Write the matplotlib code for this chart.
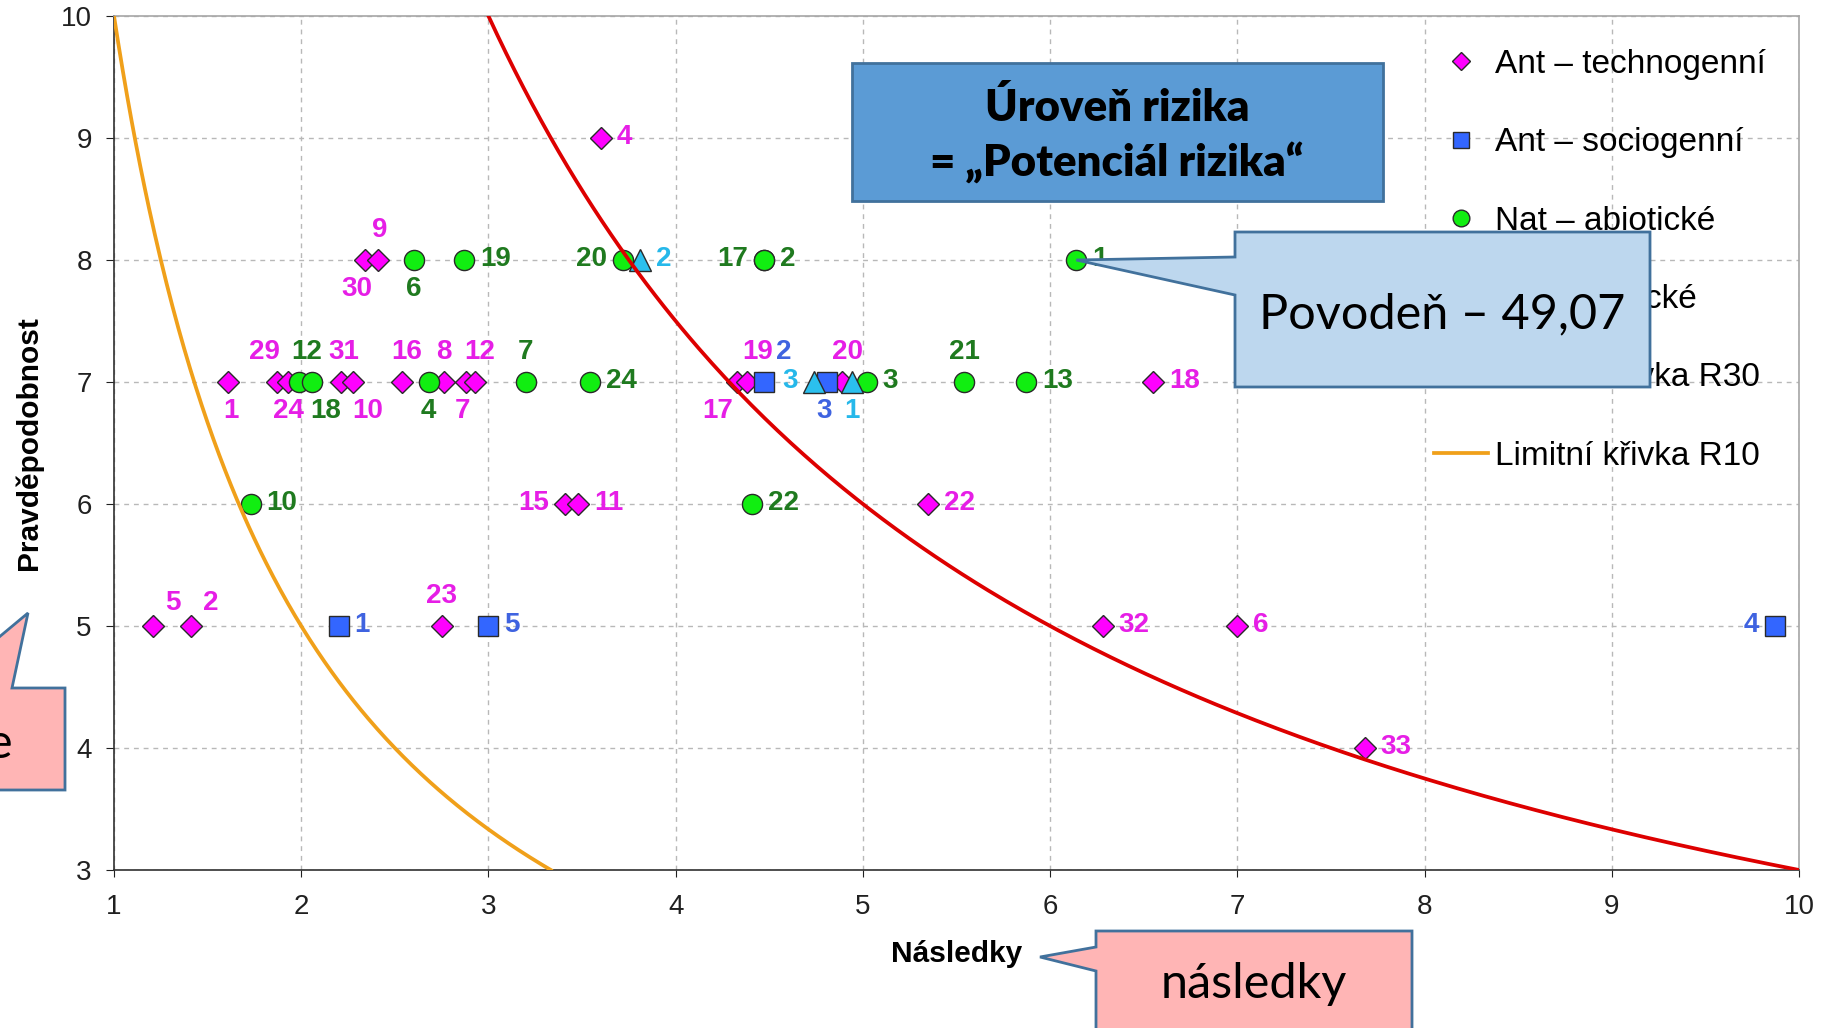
import matplotlib
matplotlib.use("Agg")
import matplotlib.pyplot as plt
import numpy as np
from matplotlib.patches import Polygon
from matplotlib.lines import Line2D

plt.rcParams['font.family'] = ['Liberation Sans', 'DejaVu Sans']

W, H = 1821, 1028

# Ant - technogenni (magenta diamonds)
tech_x = [3.60, 2.34, 2.41, 1.61, 1.87, 1.93, 2.21, 2.275, 2.54, 2.76, 2.88, 2.93,
          4.33, 4.38, 4.89, 6.55, 3.41, 3.48, 5.35, 1.21, 1.41, 2.75, 6.28, 7.00, 7.68]
tech_y = [9, 8, 8, 7, 7, 7, 7, 7, 7, 7, 7, 7, 7, 7, 7, 7, 6, 6, 6, 5, 5, 5, 5, 5, 4]
tech_lbl = ['4', '30', '9', '1', '29', '24', '31', '10', '16', '8', '7', '12',
            '17', '19', '20', '18', '15', '11', '22', '5', '2', '23', '32', '6', '33']

# Ant - sociogenni (blue squares)
soc_x = [2.20, 3.00, 9.87, 4.47, 4.81]
soc_y = [5, 5, 5, 7, 7]
soc_lbl = ['1', '5', '4', '2', '3']

# Nat - abioticke (green circles)
abio_x = [2.60, 2.87, 3.72, 4.47, 4.47, 6.14, 1.99, 2.06, 2.68, 3.20, 3.54, 5.02, 5.54, 5.87, 1.73, 4.41]
abio_y = [8, 8, 8, 8, 8, 8, 7, 7, 7, 7, 7, 7, 7, 7, 6, 6]
abio_lbl = ['6', '19', '20', '17', '2', '1', '12', '18', '4', '7', '24', '3', '21', '13', '10', '22']

# Nat - bioticke (cyan triangles)
bio_x = [3.81, 4.74, 4.94]
bio_y = [8, 7, 7]
bio_lbl = ['2', '3', '1']

# limit curves  R = nasledky * pravdepodobnost
r_limits = [30, 10]

# label placement (side, extra x shift in px)
tech_pos = [('r', 0), ('b', -8), ('a', 2), ('b', 3), ('a', -12), ('b', 0), ('a', 3), ('b', 15),
            ('a', 4), ('a', 0), ('b', -3), ('a', 4), ('b', -20), ('a', 11), ('a', 5), ('r', 0),
            ('l', 0), ('r', 0), ('r', 0), ('ar', 0), ('ar', 0), ('a', 0), ('r', 0), ('r', 0), ('r', 0)]
soc_pos = [('r', 0), ('r', 0), ('l', 0), ('a', 20), ('b', -3)]
abio_pos = [('b', 0), ('r', 0), ('l', 0), ('l', 0), ('r', 0), ('r', 0), ('a', 7), ('b', 13),
            ('b', 0), ('a', 0), ('r', 0), ('r', 0), ('a', 0), ('r', 0), ('r', 0), ('r', 0)]
bio_pos = [('r', 0), ('l', 0), ('b', 0)]

fig = plt.figure(figsize=(W / 100, H / 100), dpi=100)
ax = fig.add_axes([114 / W, 1 - 870 / H, (1799 - 114) / W, (870 - 16) / H])

ax.set_xlim(1, 10)
ax.set_ylim(3, 10)
ax.set_xticks(range(1, 11))
ax.set_yticks(range(3, 11))
ax.grid(True, linestyle=(0, (3.5, 3.5)), color='#b8b8b8', linewidth=1)
ax.set_axisbelow(True)
for s in ['top', 'right']:
    ax.spines[s].set_color('#a6a6a6')
for s in ['left', 'bottom']:
    ax.spines[s].set_color('#303030')
for s in ax.spines.values():
    s.set_linewidth(1.2)
ax.tick_params(axis='x', direction='out', length=5, pad=12, labelsize=20, colors='#202020')
ax.tick_params(axis='y', direction='out', length=6, pad=10, labelsize=20, colors='#202020')

ec = '#2a2a2a'
ax.plot(tech_x, tech_y, 'D', ms=11, mfc='#FF00FF', mec=ec, mew=1, zorder=3)
ax.plot(soc_x, soc_y, 's', ms=15, mfc='#3366FF', mec=ec, mew=1, zorder=3)
ax.plot(abio_x, abio_y, 'o', ms=14.5, mfc='#11EE11', mec=ec, mew=1, zorder=3)
ax.plot(bio_x, bio_y, '^', ms=16, mfc='#2BC0EE', mec=ec, mew=1, zorder=3)

# limit curves
xr30 = np.linspace(30 / 10, 10, 300)
ax.plot(xr30, r_limits[0] / xr30, color='#DD0000', lw=2.7, zorder=4)
xr10 = np.linspace(1, 10 / 3, 300)
ax.plot(xr10, r_limits[1] / xr10, color='#F0A01A', lw=2.7, zorder=4)


def put_labels(xs, ys, lbls, pos, color):
    for x, y, t, (side, sh) in zip(xs, ys, lbls, pos):
        k = 0.72
        if side == 'r':
            dx, dy, ha = 16 * k, -6 * k, 'left'
        elif side == 'l':
            dx, dy, ha = -16 * k, -6 * k, 'right'
        elif side == 'a':
            dx, dy, ha = sh * k, 23 * k, 'center'
        elif side == 'ar':
            dx, dy, ha = 12 * k, 16 * k, 'left'
        else:
            dx, dy, ha = sh * k, -36 * k, 'center'
        ax.annotate(t, (x, y), xytext=(dx, dy), textcoords='offset points',
                    ha=ha, va='baseline', fontsize=20, fontweight='bold',
                    color=color, zorder=5)


put_labels(tech_x, tech_y, tech_lbl, tech_pos, '#E61EE6')
put_labels(soc_x, soc_y, soc_lbl, soc_pos, '#3F63E0')
put_labels(abio_x, abio_y, abio_lbl, abio_pos, '#1F7A1F')
put_labels(bio_x, bio_y, bio_lbl, bio_pos, '#26B8EA')

ax.set_xlabel('Následky', fontsize=21.5, fontweight='bold', labelpad=15)
ax.set_ylabel('Pravděpodobnost', fontsize=21.5, fontweight='bold', labelpad=13)

handles = [
    Line2D([], [], ls='none', marker='D', ms=9, mfc='#FF00FF', mec=ec, mew=1),
    Line2D([], [], ls='none', marker='s', ms=12, mfc='#3366FF', mec=ec, mew=1),
    Line2D([], [], ls='none', marker='o', ms=12, mfc='#11EE11', mec=ec, mew=1),
    Line2D([], [], ls='none', marker='^', ms=13, mfc='#2BC0EE', mec=ec, mew=1),
    Line2D([], [], color='#DD0000', lw=2.7),
    Line2D([], [], color='#F0A01A', lw=2.7),
]
names = ['Ant – technogenní', 'Ant – sociogenní', 'Nat – abiotické', 'Nat – biotické',
         'Limitní křivka R30', 'Limitní křivka R10']
leg = ax.legend(handles, names, loc='upper left',
                bbox_to_anchor=(1434 / W, 1 - 49 / H), bbox_transform=fig.transFigure,
                frameon=False, fontsize=24, labelspacing=1.42, handlelength=1.62,
                handletextpad=0.22, borderpad=0, borderaxespad=0)
leg.set_zorder(6)


def fxy(px, py):
    return (px / W, 1 - py / H)


edge = '#41719C'
cal = ['Lato', 'DejaVu Sans']

# Uroven rizika box
fig.patches.append(Polygon([fxy(852, 63), fxy(1383, 63), fxy(1383, 201), fxy(852, 201)],
                           closed=True, transform=fig.transFigure, fc='#5B9BD5', ec=edge,
                           lw=2, zorder=10))
fig.text(*fxy(1117, 121), 'Úroveň rizika', ha='center', va='baseline', fontsize=31.5,
         fontweight='heavy', family=cal, zorder=11)
fig.text(*fxy(1117, 177), '= „Potenciál rizika“', ha='center', va='baseline', fontsize=31.5,
         fontweight='heavy', family=cal, zorder=11)

# Povoden callout pointing to the flood point
tip = fig.transFigure.inverted().transform(ax.transData.transform((abio_x[5], abio_y[5])))
fig.patches.append(Polygon([fxy(1235, 232), fxy(1650, 232), fxy(1650, 387), fxy(1235, 387),
                            fxy(1235, 295), tuple(tip), fxy(1235, 257)],
                           closed=True, transform=fig.transFigure, fc='#BDD7EE', ec=edge,
                           lw=2, zorder=10))
fig.text(*fxy(1442, 328), 'Povodeň – 49,07', ha='center', va='baseline', fontsize=35,
         family=cal, zorder=11)

# nasledky callout
fig.patches.append(Polygon([fxy(1096, 931), fxy(1412, 931), fxy(1412, 1040), fxy(1096, 1040),
                            fxy(1096, 971), fxy(1040, 957), fxy(1096, 947)],
                           closed=True, transform=fig.transFigure, fc='#FFB5B5', ec=edge,
                           lw=2, zorder=10))
fig.text(*fxy(1254, 998), 'následky', ha='center', va='baseline', fontsize=35,
         family=cal, zorder=11)

# left callout (cut by the image edge)
fig.patches.append(Polygon([fxy(-80, 688), fxy(-62, 688), fxy(28, 613), fxy(12, 688),
                            fxy(65, 688), fxy(65, 790), fxy(-80, 790)],
                           closed=True, transform=fig.transFigure, fc='#FFB5B5', ec=edge,
                           lw=2, zorder=10))
fig.text(*fxy(13, 758), 'e', ha='right', va='baseline', fontsize=35,
         family=cal, zorder=11)

fig.savefig('out.png', dpi=100)
